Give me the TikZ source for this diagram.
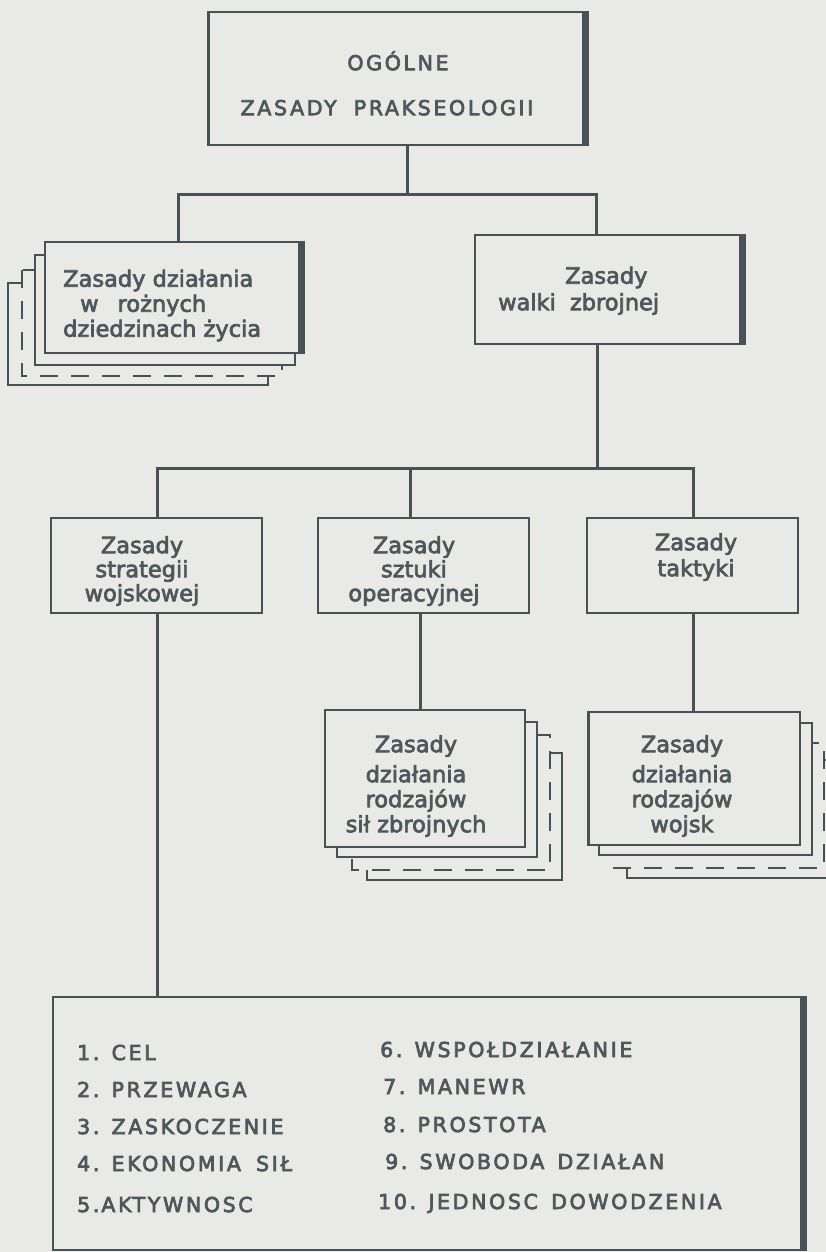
\documentclass[tikz,border=0pt]{standalone}
\usepackage{fontspec}
\setmainfont{DejaVu Sans}[FakeBold=3]
\newfontfamily\capsfont{DejaVu Sans}[LetterSpace=13,FakeBold=3.5]
\definecolor{bg}{RGB}{233,233,230}
\definecolor{ink}{RGB}{72,82,86}
\definecolor{txt}{RGB}{78,88,92}
\newcommand{\ts}{\rule{0pt}{20pt}}
\begin{document}
\begin{tikzpicture}[x=1pt,y=-1pt,
  box/.style={draw=ink, line width=2.6pt, fill=bg, inner sep=0pt, outer sep=0pt},
  layer/.style={draw=ink, line width=2.4pt, fill=bg},
  dlayer/.style={layer, dash pattern=on 18pt off 13pt},
  conn/.style={draw=ink, line width=3pt},
  thickedge/.style={draw=ink, line width=7pt},
  low/.style={text=txt, inner sep=0pt, anchor=north, align=center, font=\fontsize{22.5}{24}\selectfont},
  capsitem/.style={text=txt, inner sep=0pt, anchor=base west, font=\capsfont\fontsize{20.5}{24}\selectfont},
]
\path[use as bounding box] (0,0) rectangle (826,1252);
\fill[bg] (0,0) rectangle (826,1252);
\begin{scope}
\clip (0,0) rectangle (826,1252);

% stacked layers (behind)
\draw[layer] (8,283) rectangle (268,385);
\draw[dlayer] (22,270) rectangle (282,376);
\draw[layer] (35,255) rectangle (295,365);

\draw[layer] (367,753) rectangle (562,880);
\draw[dlayer] (352,735) rectangle (550,870);
\draw[layer] (337,722) rectangle (537,857);

\draw[layer] (627,760) rectangle (845,878);
\draw[dlayer] (614,743) rectangle (824,868);
\draw[layer] (599,723) rectangle (812,855);

% boxes
\node[box, minimum width=376.4pt, minimum height=133pt] (top) at (396.8,78.5) {};
\node[box, minimum width=256pt, minimum height=111pt] (lbox) at (173,297.5) {};
\node[box, minimum width=267pt, minimum height=109pt] (walki) at (608.5,289.5) {};
\node[box, minimum width=211pt, minimum height=95pt] (strat) at (156.5,565.5) {};
\node[box, minimum width=211pt, minimum height=95pt] (oper) at (423.5,565.5) {};
\node[box, minimum width=211pt, minimum height=95pt] (takt) at (692.5,565.5) {};
\node[box, minimum width=200pt, minimum height=137pt] (ra) at (425,778.5) {};
\node[box, minimum width=211.4pt, minimum height=133pt] (rb) at (694.3,778.5) {};
\node[box, minimum width=750pt, minimum height=253pt] (list) at (428,1123.5) {};

% thick right edges
\foreach \n in {top,lbox,walki,list}{
  \draw[thickedge] ([yshift=1.3pt]\n.north east) -- ([yshift=-1.3pt]\n.south east);
}

% connectors
\coordinate (j1) at (407,195);
\coordinate (j1l) at (178,195);
\coordinate (j1r) at (596,195);
\draw[conn] (top.south -| j1) -- (j1);
\draw[conn] (lbox.north -| j1l) -- (j1l) -- (j1r) -- (walki.north -| j1r);

\coordinate (j2) at (597,468);
\coordinate (j2l) at (157,468);
\coordinate (j2m) at (410,468);
\coordinate (j2r) at (693,468);
\draw[conn] (walki.south -| j2) -- (j2);
\draw[conn] (strat.north -| j2l) -- (j2l) -- (j2r) -- (takt.north -| j2r);
\draw[conn] (j2m) -- (oper.north -| j2m);

\coordinate (j3) at (420,660);
\draw[conn] (oper.south -| j3) -- (ra.north -| j3);
\draw[conn] (takt.south -| j2r) -- (rb.north -| j2r);
\draw[conn] (strat.south -| j2l) -- (list.north -| j2l);

% texts
\node[low, font=\capsfont\fontsize{20.5}{45}\selectfont] (toptext) at (387,50)
  {\ts\hspace*{22pt}OGÓLNE\\ZASADY\hspace{8pt} PRAKSEOLOGII};
\node[low, anchor=north west, align=left, font=\fontsize{22.5}{25}\selectfont] (ltext) at (63,266.5)
  {\ts Zasady działania\\\hspace*{17pt}w\hspace{19pt}rożnych\\dziedzinach życia};
\node[low, anchor=north west, align=left, font=\fontsize{22.5}{26.5}\selectfont] (wtext) at (498,263.5)
  {\ts\hspace*{67pt}Zasady\\walki\hspace{14pt}zbrojnej};
\node[low] (stext) at (142,533) {\ts Zasady\\strategii\\wojskowej};
\node[low] (otext) at (414,533) {\ts Zasady\\sztuki\\operacyjnej};
\node[low, font=\fontsize{22.5}{26}\selectfont] (ttext) at (696,530) {\ts Zasady\\taktyki};
\node[low, font=\fontsize{22.5}{25}\selectfont] (atext) at (416,732)
  {\ts Zasady\\[5pt]działania\\rodzajów\\sił zbrojnych};
\node[low, font=\fontsize{22.5}{25}\selectfont] (btext) at (682,732)
  {\ts Zasady\\[5pt]działania\\rodzajów\\wojsk};

\node[capsitem] (i1) at (77,1060) {1. CEL};
\node[capsitem] (i2) at (77,1097) {2. PRZEWAGA};
\node[capsitem] (i3) at (77,1134) {3. ZASKOCZENIE};
\node[capsitem] (i4) at (77,1171) {4. EKONOMIA\hspace{6pt} SIŁ};
\node[capsitem] (i5) at (77,1212) {5.\hspace{2pt}AKTYWNOSC};
\node[capsitem] (i6) at (380,1057) {6. WSPOŁDZIAŁANIE};
\node[capsitem] (i7) at (383,1094) {7. MANEWR};
\node[capsitem] (i8) at (383,1132) {8. PROSTOTA};
\node[capsitem] (i9) at (385,1169) {9. SWOBODA\hspace{4pt} DZIAŁAN};
\node[capsitem] (i10) at (378,1209) {10. JEDNOSC\hspace{4pt} DOWODZENIA};
\end{scope}
\end{tikzpicture}
\end{document}
